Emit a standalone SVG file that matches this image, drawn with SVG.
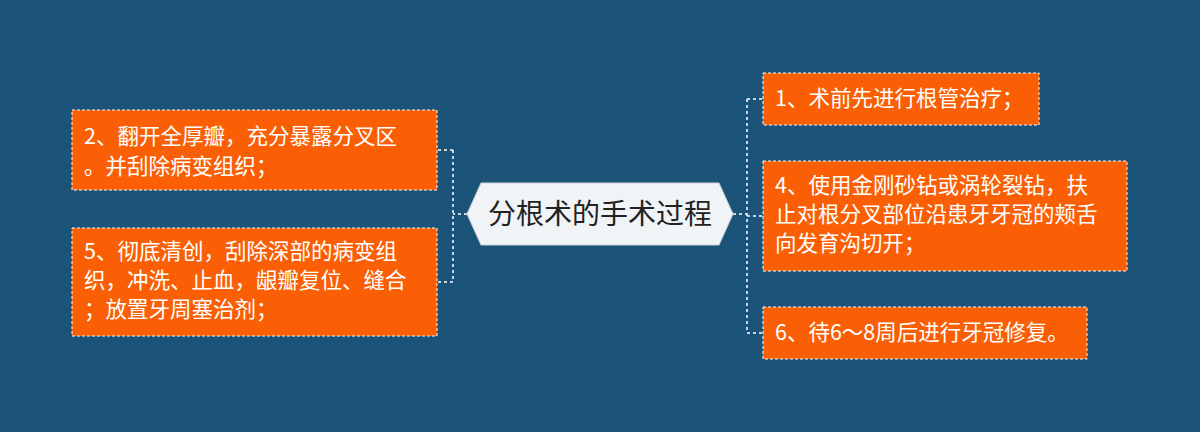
<svg xmlns="http://www.w3.org/2000/svg" width="1200" height="432" viewBox="0 0 1200 432">
<style>
.box{fill:#fa5f05;stroke:#fff;stroke-width:1;stroke-dasharray:3,2}
.t{font-family:"Noto Sans CJK SC","Liberation Sans",sans-serif;font-size:21.5px;fill:#fff}
.c{fill:none;stroke:#fff;stroke-width:1.5;stroke-dasharray:3,3}
</style>
<rect width="1200" height="432" fill="#1b5379"/>
<g id="connectors">
<path class="c" d="M467 214H453M453 150V282M453 150H437M453 282H437"/>
<path class="c" d="M733 214H747M747 99V333M747 99H763M747 216H763M747 333H763"/>
</g>
<g id="center">
<path d="M481 183H719L733 214L719 245H481L467 214Z" fill="#f1f4f6" stroke="#c8d0d6"/>
<text x="600" y="224" text-anchor="middle" font-family="Noto Sans CJK SC,Liberation Sans,sans-serif" font-size="28" fill="#222">分根术的手术过程</text>
</g>
<g id="n2"><rect class="box" x="72" y="110" width="365" height="80"/>
<text class="t" x="84" y="144">2、翻开全厚瓣，充分暴露分叉区</text>
<text class="t" x="84" y="174">。并刮除病变组织；</text></g>
<g id="n5"><rect class="box" x="72" y="228" width="365" height="108"/>
<text class="t" x="84" y="259">5、彻底清创，刮除深部的病变组</text>
<text class="t" x="84" y="288">织，冲洗、止血，龈瓣复位、缝合</text>
<text class="t" x="84" y="317">；放置牙周塞治剂；</text></g>
<g id="n1"><rect class="box" x="763" y="73" width="276" height="52"/>
<text class="t" x="775" y="106">1、术前先进行根管治疗；</text></g>
<g id="n4"><rect class="box" x="763" y="161" width="364" height="110"/>
<text class="t" x="775" y="193">4、使用金刚砂钻或涡轮裂钻，扶</text>
<text class="t" x="775" y="222">止对根分叉部位沿患牙牙冠的颊舌</text>
<text class="t" x="775" y="251">向发育沟切开；</text></g>
<g id="n6"><rect class="box" x="763" y="307" width="324" height="52"/>
<text class="t" x="775" y="340">6、待6～8周后进行牙冠修复。</text></g>
</svg>
